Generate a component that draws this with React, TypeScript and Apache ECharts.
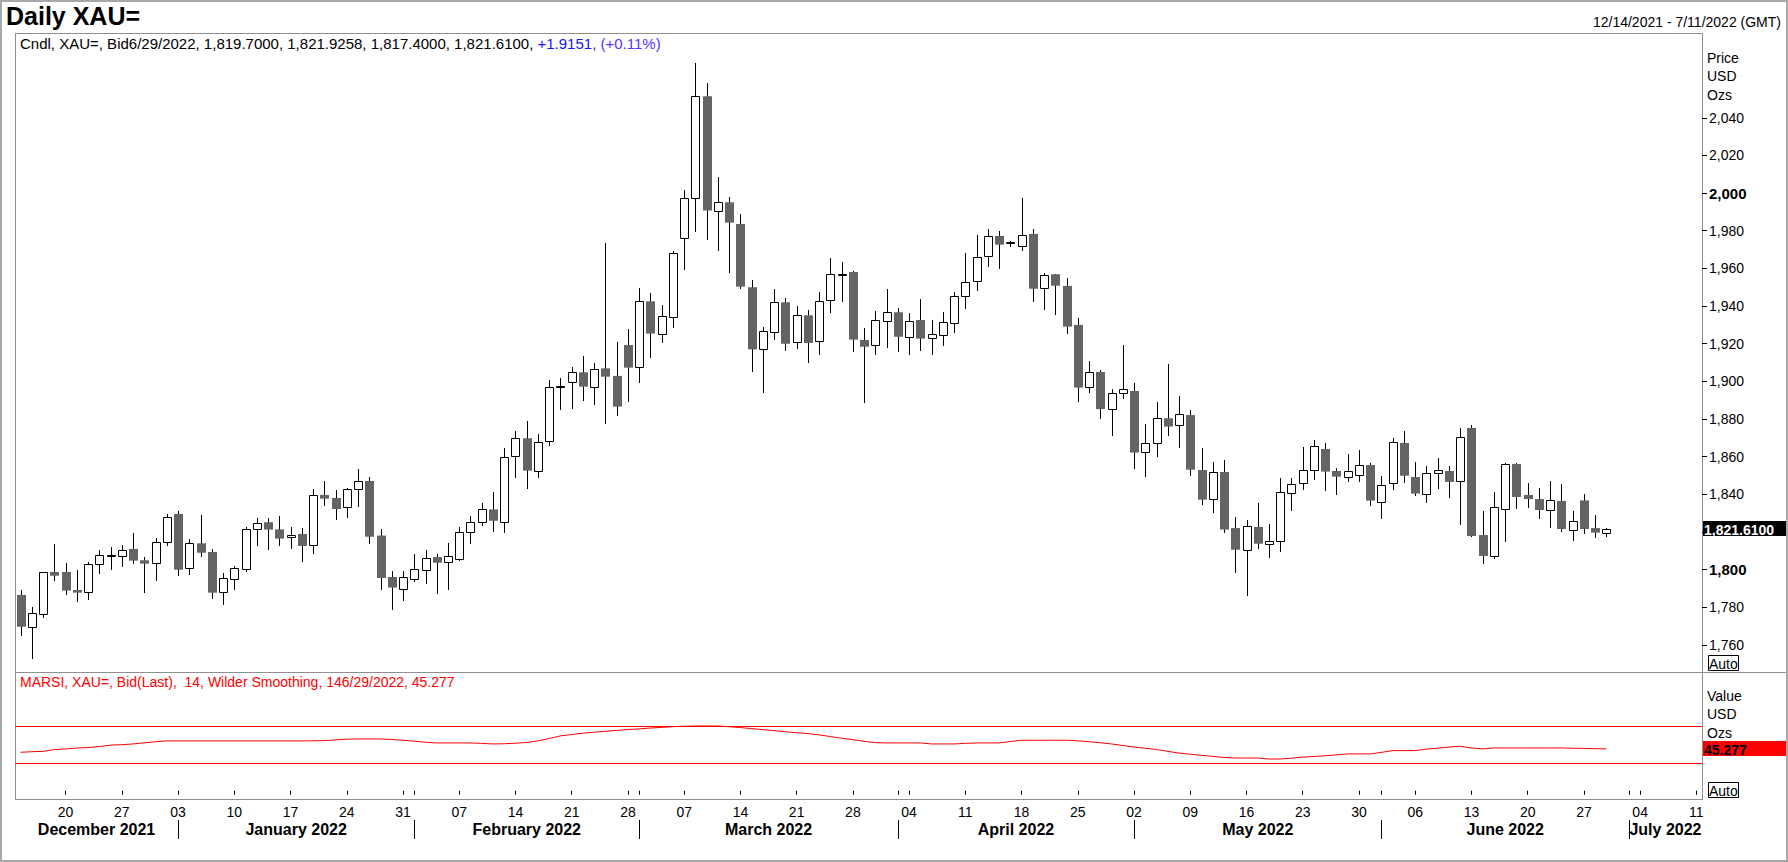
import React, { useEffect, useRef } from "react";
import * as echarts from "echarts";

// ---------- data ----------
const FIRST_DAY = "2021-12-14";
const LAST_DAY = "2022-07-11";

const opens: number[] = [
  1786.6, 1769.7, 1776.6, 1798.8, 1798.8, 1789.2, 1788.0, 1802.8, 1807.2, 1807.1,
  1811.0, 1805.0, 1803.4, 1814.5, 1829.6, 1800.7, 1814.0, 1809.4, 1788.3, 1794.9,
  1800.5, 1821.4, 1825.2, 1821.4, 1817.2, 1819.0, 1812.9, 1839.7, 1838.1, 1833.1,
  1842.7, 1847.1, 1818.1, 1796.1, 1789.9, 1795.2, 1800.0, 1806.7, 1803.9, 1805.9,
  1819.8, 1825.2, 1832.0, 1825.5, 1860.2, 1869.8, 1852.2, 1868.2, 1897.0, 1899.5,
  1904.8, 1897.2, 1906.9, 1902.9, 1919.3, 1907.5, 1942.5, 1925.4, 1934.4, 1976.0,
  1997.2, 2051.4, 1990.7, 1995.1, 1983.6, 1950.0, 1917.0, 1926.4, 1942.0, 1920.8,
  1935.1, 1921.3, 1943.1, 1956.4, 1958.1, 1922.0, 1919.2, 1931.9, 1936.7, 1923.4,
  1932.6, 1922.9, 1924.5, 1930.8, 1945.2, 1953.1, 1966.4, 1977.2, 1973.5, 1971.7,
  1978.3, 1949.4, 1956.9, 1950.7, 1930.0, 1896.8, 1905.0, 1885.2, 1893.7, 1894.9,
  1862.3, 1867.1, 1880.4, 1876.7, 1882.1, 1852.9, 1837.4, 1851.9, 1822.1, 1810.3,
  1822.7, 1813.5, 1815.4, 1840.5, 1845.9, 1852.8, 1864.1, 1852.4, 1849.1, 1850.1,
  1855.6, 1835.8, 1845.9, 1867.3, 1849.2, 1840.0, 1851.2, 1852.4, 1847.3, 1875.2,
  1818.4, 1807.5, 1832.4, 1856.1, 1839.7, 1837.5, 1831.9, 1836.5, 1821.3, 1836.8,
  1822.1, 1819.7,
];
const highs: number[] = [
  1789.2, 1780.4, 1799.0, 1813.6, 1803.5, 1799.8, 1804.1, 1810.5, 1812.0, 1813.1,
  1819.5, 1806.9, 1816.6, 1829.4, 1831.2, 1816.1, 1829.0, 1810.8, 1798.1, 1802.0,
  1822.5, 1827.3, 1827.3, 1828.3, 1822.7, 1822.3, 1842.9, 1847.3, 1842.3, 1843.6,
  1853.5, 1849.4, 1821.6, 1799.3, 1799.3, 1808.3, 1810.4, 1808.3, 1814.4, 1822.5,
  1828.7, 1835.2, 1841.3, 1864.4, 1873.7, 1879.0, 1872.1, 1900.7, 1901.7, 1907.5,
  1913.5, 1909.7, 1973.7, 1920.8, 1927.7, 1949.6, 1946.8, 1940.6, 1969.3, 2001.7,
  2068.9, 2058.3, 2008.6, 1997.9, 1988.9, 1953.9, 1929.1, 1949.1, 1944.3, 1940.0,
  1937.9, 1947.3, 1965.4, 1963.4, 1958.6, 1928.2, 1937.4, 1949.1, 1939.0, 1936.1,
  1943.8, 1932.6, 1936.9, 1947.3, 1968.2, 1977.7, 1980.9, 1979.9, 1974.7, 1997.4,
  1980.8, 1957.4, 1957.2, 1954.9, 1933.7, 1910.8, 1906.0, 1895.8, 1919.3, 1899.0,
  1877.4, 1889.1, 1909.2, 1892.2, 1884.8, 1864.6, 1857.2, 1858.2, 1828.0, 1826.4,
  1835.4, 1824.3, 1848.7, 1848.7, 1865.1, 1868.9, 1867.1, 1854.2, 1861.4, 1863.6,
  1856.8, 1849.8, 1869.8, 1873.6, 1857.2, 1855.1, 1859.3, 1855.1, 1875.2, 1876.7,
  1831.2, 1841.3, 1856.8, 1856.5, 1846.2, 1843.2, 1847.1, 1845.5, 1831.2, 1840.2,
  1828.9, 1821.9258,
];
const lows: number[] = [
  1764.8, 1752.6, 1774.5, 1794.2, 1786.6, 1782.8, 1784.1, 1797.9, 1800.0, 1801.6,
  1803.2, 1787.8, 1794.2, 1812.8, 1796.8, 1797.2, 1806.9, 1784.6, 1781.4, 1789.4,
  1798.9, 1812.8, 1810.6, 1812.8, 1811.1, 1804.1, 1808.3, 1833.8, 1826.4, 1827.6,
  1833.5, 1813.6, 1789.2, 1778.6, 1783.6, 1793.6, 1792.4, 1787.1, 1789.2, 1804.8,
  1813.6, 1823.2, 1820.0, 1819.7, 1848.9, 1843.0, 1848.9, 1865.9, 1884.8, 1885.3,
  1889.8, 1887.5, 1877.4, 1881.6, 1889.2, 1899.3, 1912.6, 1920.6, 1928.5, 1959.2,
  1979.3, 1975.1, 1969.4, 1957.8, 1948.9, 1905.2, 1894.0, 1922.0, 1916.3, 1917.0,
  1909.6, 1913.8, 1936.2, 1942.2, 1915.8, 1888.7, 1914.2, 1917.9, 1915.8, 1914.2,
  1916.3, 1914.2, 1919.0, 1925.9, 1938.6, 1948.2, 1960.9, 1959.9, 1971.5, 1969.4,
  1942.3, 1938.1, 1935.4, 1925.3, 1889.2, 1894.0, 1880.0, 1871.0, 1890.8, 1853.7,
  1849.4, 1860.0, 1871.0, 1864.8, 1849.9, 1834.5, 1830.3, 1819.7, 1798.4, 1786.2,
  1811.2, 1806.4, 1809.6, 1831.4, 1842.5, 1847.8, 1842.0, 1839.8, 1846.8, 1846.8,
  1834.0, 1827.1, 1842.3, 1845.9, 1839.1, 1835.6, 1842.9, 1838.1, 1823.9, 1817.5,
  1803.0, 1805.9, 1814.7, 1832.2, 1832.8, 1826.9, 1822.1, 1820.0, 1815.4, 1818.9,
  1817.0, 1817.4,
];
const closes: number[] = [
  1769.7, 1776.8, 1798.6, 1796.8, 1788.9, 1787.8, 1802.8, 1807.6, 1807.6, 1810.3,
  1804.8, 1803.2, 1814.5, 1827.8, 1800.0, 1814.0, 1809.0, 1787.8, 1795.4, 1800.7,
  1821.4, 1824.6, 1821.3, 1816.5, 1818.3, 1812.6, 1839.5, 1837.7, 1832.2, 1842.9,
  1847.1, 1817.5, 1795.6, 1790.5, 1795.9, 1800.2, 1806.0, 1803.7, 1807.1, 1819.8,
  1825.2, 1832.0, 1826.0, 1859.7, 1869.8, 1852.6, 1867.6, 1896.8, 1897.4, 1904.8,
  1897.2, 1906.8, 1902.5, 1886.6, 1907.3, 1942.5, 1925.4, 1934.6, 1968.0, 1997.2,
  2051.4, 1990.7, 1995.1, 1984.3, 1950.3, 1917.0, 1927.0, 1942.0, 1920.0, 1935.1,
  1920.4, 1942.5, 1956.9, 1956.8, 1922.2, 1918.4, 1932.4, 1936.7, 1923.7, 1931.9,
  1922.7, 1925.0, 1931.4, 1945.2, 1952.6, 1965.9, 1977.0, 1972.6, 1973.9, 1977.6,
  1949.2, 1956.7, 1950.8, 1929.1, 1896.7, 1904.8, 1885.3, 1893.8, 1895.8, 1862.2,
  1867.1, 1880.4, 1876.0, 1882.5, 1853.1, 1837.2, 1851.7, 1821.3, 1810.6, 1823.0,
  1813.8, 1815.1, 1841.1, 1845.3, 1852.8, 1865.5, 1852.1, 1849.4, 1852.2, 1855.4,
  1836.7, 1844.8, 1867.6, 1849.9, 1840.4, 1851.2, 1852.8, 1846.6, 1870.3, 1817.9,
  1807.3, 1833.1, 1855.9, 1838.6, 1837.5, 1831.7, 1836.8, 1821.6, 1825.9, 1821.6,
  1819.69, 1821.61,
];
const rsi: number[] = [
  41.6, 42.2, 42.6, 44.5, 45.2, 46.2, 46.7, 47.8, 49.3, 49.8,
  50.6, 51.8, 53.0, 53.9, 53.9, 53.9, 53.9, 53.9, 53.9, 53.9,
  53.9, 53.9, 53.9, 53.9, 53.9, 53.9, 54.0, 54.2, 55.0, 55.8,
  56.0, 56.0, 56.0, 55.4, 54.6, 53.6, 52.4, 51.7, 51.7, 51.7,
  51.7, 51.2, 50.6, 50.8, 51.4, 52.2, 53.9, 56.5, 59.3, 60.8,
  62.2, 63.3, 64.3, 65.2, 66.2, 66.9, 67.8, 68.5, 69.3, 69.7,
  70.0, 70.0, 70.0, 69.2, 68.3, 67.2, 66.1, 65.0, 63.8, 62.7,
  61.8, 60.4, 58.6, 56.8, 55.2, 53.4, 52.0, 51.7, 51.7, 51.7,
  51.7, 50.6, 50.6, 50.6, 51.2, 51.7, 51.7, 51.7, 53.2, 54.6,
  54.6, 54.6, 54.6, 54.6, 54.0, 53.0, 51.9, 50.6, 48.9, 47.3,
  45.9, 44.6, 42.6, 40.7, 39.5, 38.3, 37.2, 36.0, 35.4, 35.4,
  35.4, 34.3, 34.3, 35.2, 36.4, 37.0, 37.8, 38.8, 39.8, 39.8,
  39.8, 41.5, 43.4, 43.4, 43.4, 45.0, 46.0, 47.2, 48.1, 46.3,
  45.2, 46.3, 46.3, 46.3, 46.3, 46.3, 46.3, 46.3, 46.0, 45.8,
  45.5, 45.277,
];

const PRICE_MIN = 1760;
const PRICE_MAX = 2040;
const PRICE_STEP = 20;
const BOLD_TICKS = [1800, 2000];
const RSI_BANDS = [70, 30];

const TITLE = "Daily XAU=";
const RANGE_TEXT = "12/14/2021 - 7/11/2022 (GMT)";
const LEGEND_MAIN = "Cndl, XAU=, Bid6/29/2022, 1,819.7000, 1,821.9258, 1,817.4000, 1,821.6100, ";
const LEGEND_CHANGE = "+1.9151, ";
const LEGEND_PCT = "(+0.11%)";
const RSI_LEGEND = "MARSI, XAU=, Bid(Last),  14, Wilder Smoothing, 146/29/2022, 45.277";
const PRICE_UNITS = ["Price", "USD", "Ozs"];
const RSI_UNITS = ["Value", "USD", "Ozs"];
const MONTHS = ["January", "February", "March", "April", "May", "June", "July", "August", "September", "October", "November", "December"];

function buildWeekdays(a: string, b: string): string[] {
  const out: string[] = [];
  const d = new Date(a + "T00:00:00Z");
  const end = new Date(b + "T00:00:00Z");
  while (d <= end) {
    const wd = d.getUTCDay();
    if (wd !== 0 && wd !== 6) out.push(d.toISOString().slice(0, 10));
    d.setUTCDate(d.getUTCDate() + 1);
  }
  return out;
}
const dates = buildWeekdays(FIRST_DAY, LAST_DAY);

const isMonday = (s: string) => new Date(s + "T00:00:00Z").getUTCDay() === 1;
const isMonthStart = (i: number) => i > 0 && dates[i].slice(5, 7) !== dates[i - 1].slice(5, 7);

const FONT = "'Liberation Sans', Arial, Helvetica, sans-serif";
const FRAME = "#8f8f8f";

// layout
const W = 1788;
const H = 862;
const PLOT_L = 15;
const PLOT_R = 1702;
const PANEL_TOP = 33;
const PANEL_SPLIT = 672;
const PANEL_BOTTOM = 799;
const TAG_W = 83;
const TAG_H = 15;

export default function App() {
  const ref = useRef<HTMLDivElement>(null);

  useEffect(() => {
    document.body.style.margin = "0";
    const chart = echarts.init(ref.current!, null, { renderer: "svg" });
    const n = closes.length;
    const candleData = closes.map((c, i) => [i, opens[i], c, lows[i], highs[i]]);
    const last = n - 1;
    const lastClose = closes[last];
    const lastCloseText = lastClose.toLocaleString("en-US", { minimumFractionDigits: 4, maximumFractionDigits: 4 });
    const lastRsiText = rsi[last].toFixed(3);

    const textEl = (id: string, text: string, x: number, y: number, extra: any = {}) => ({
      type: "text",
      id,
      x,
      y,
      silent: true,
      z: 50,
      style: {
        text,
        fontFamily: FONT,
        fontSize: 14,
        fill: "#000",
        textVerticalAlign: "middle",
        ...extra,
      },
    });
    const lineEl = (id: string, x1: number, y1: number, x2: number, y2: number, stroke = FRAME, lw = 1) => ({
      type: "line",
      id,
      silent: true,
      shape: { x1, y1, x2, y2 },
      style: { stroke, lineWidth: lw },
    });

    const graphics: any[] = [
      { type: "rect", id: "frame", silent: true, shape: { x: 1, y: 1, width: W - 2, height: H - 2 }, style: { fill: "none", stroke: "#a8a8a8", lineWidth: 2 } },
      lineEl("pTop", PLOT_L, PANEL_TOP + 0.5, PLOT_R, PANEL_TOP + 0.5),
      lineEl("pLeft", PLOT_L + 0.5, PANEL_TOP, PLOT_L + 0.5, PANEL_BOTTOM),
      lineEl("pRight", PLOT_R + 0.5, PANEL_TOP, PLOT_R + 0.5, PANEL_BOTTOM + 1),
      lineEl("pSplit", PLOT_L, PANEL_SPLIT + 0.5, 1786, PANEL_SPLIT + 0.5),
      lineEl("pBottom", PLOT_L, PANEL_BOTTOM + 0.5, PLOT_R, PANEL_BOTTOM + 0.5),
      textEl("title", TITLE, 6, 16, { fontSize: 25, fontWeight: "bold" }),
      textEl("range", RANGE_TEXT, 1781, 22, { textAlign: "right" }),
      {
        type: "text",
        id: "legend",
        x: 20,
        y: 43,
        silent: true,
        z: 50,
        style: {
          text: `{a|${LEGEND_MAIN}}{b|${LEGEND_CHANGE}}{c|${LEGEND_PCT}}`,
          textVerticalAlign: "middle",
          rich: {
            a: { fontFamily: FONT, fontSize: 15, fill: "#000", color: "#000" },
            b: { fontFamily: FONT, fontSize: 15, fill: "#1414ff", color: "#1414ff" },
            c: { fontFamily: FONT, fontSize: 15, fill: "#5a32ff", color: "#5a32ff" },
          },
        },
      },
      textEl("rsiLegend", RSI_LEGEND, 20, 682, { fill: "#ff0000", fontSize: 14 }),
      ...PRICE_UNITS.map((t, k) => textEl("pu" + k, t, 1707, 58 + k * 18.4)),
      ...RSI_UNITS.map((t, k) => textEl("ru" + k, t, 1707, 696 + k * 18.4)),
      { type: "rect", id: "autoBox1", silent: true, shape: { x: 1708.5, y: 655.5, width: 30, height: 15 }, style: { fill: "#fff", stroke: "#000", lineWidth: 1 } },
      textEl("auto1", "Auto", 1709, 663.5),
      { type: "rect", id: "autoBox2", silent: true, shape: { x: 1708.5, y: 782.5, width: 30, height: 15 }, style: { fill: "#fff", stroke: "#000", lineWidth: 1 } },
      textEl("auto2", "Auto", 1709, 790.5),
    ];

    const option: any = {
      animation: false,
      backgroundColor: "#ffffff",
      textStyle: { fontFamily: FONT },
      grid: [
        { left: PLOT_L, right: W - PLOT_R, top: 117.76, bottom: H - 645.0 },
        { left: PLOT_L, right: W - PLOT_R, top: PANEL_SPLIT, bottom: H - PANEL_BOTTOM },
      ],
      xAxis: [
        { type: "category", gridIndex: 0, data: dates, show: false },
        {
          type: "category",
          gridIndex: 1,
          data: dates,
          position: "bottom",
          axisLine: { show: false },
          axisTick: {
            show: true,
            alignWithLabel: true,
            length: 4,
            interval: (i: number, v: string) => isMonday(v) || isMonthStart(i),
            lineStyle: { color: "#000", width: 1 },
          },
          axisLabel: {
            show: true,
            interval: (_i: number, v: string) => isMonday(v),
            formatter: (v: string) => v.slice(8, 10),
            fontSize: 14,
            color: "#000",
            margin: 6,
            fontFamily: FONT,
          },
          splitLine: { show: false },
        },
        {
          type: "category",
          gridIndex: 1,
          data: dates,
          position: "bottom",
          offset: 21,
          axisLine: { show: false },
          axisTick: {
            show: true,
            alignWithLabel: true,
            length: 19,
            interval: (i: number) => isMonthStart(i),
            lineStyle: { color: "#000", width: 1 },
          },
          axisLabel: { show: false },
          splitLine: { show: false },
        },
      ],
      yAxis: [
        {
          type: "value",
          gridIndex: 0,
          position: "right",
          min: PRICE_MIN,
          max: PRICE_MAX,
          interval: PRICE_STEP,
          axisLine: { show: false },
          axisTick: { show: true, length: 5, lineStyle: { color: "#000" } },
          splitLine: { show: false },
          axisLabel: {
            margin: 7,
            formatter: (v: number) => {
              // the last-price tag covers the tick label next to it
              if (Math.abs(v - lastClose) < PRICE_STEP / 3) return "";
              const s = v.toLocaleString("en-US");
              return BOLD_TICKS.includes(v) ? `{b|${s}}` : `{n|${s}}`;
            },
            rich: {
              b: { fontWeight: "bold", fontSize: 15, color: "#000", fontFamily: FONT },
              n: { fontSize: 14, color: "#000", fontFamily: FONT },
            },
          },
        },
        {
          type: "value",
          gridIndex: 1,
          min: -8.92,
          max: 128.38,
          show: false,
          splitLine: { show: false },
        },
      ],
      series: [
        {
          type: "custom",
          name: "Cndl",
          xAxisIndex: 0,
          yAxisIndex: 0,
          clip: false,
          silent: true,
          data: candleData,
          encode: { x: 0, y: [1, 2, 3, 4] },
          renderItem: (_params: any, api: any) => {
            const i = api.value(0);
            const o = api.value(1);
            const c = api.value(2);
            const l = api.value(3);
            const h = api.value(4);
            const pO = api.coord([i, o]);
            const pC = api.coord([i, c]);
            const pL = api.coord([i, l]);
            const pH = api.coord([i, h]);
            const cx = Math.round(pO[0]) + 0.5;
            const top = Math.min(pO[1], pC[1]);
            const bot = Math.max(pO[1], pC[1]);
            const up = c >= o;
            const children: any[] = [
              { type: "line", shape: { x1: cx, y1: Math.round(pH[1]), x2: cx, y2: Math.round(pL[1]) }, style: { stroke: "#000", lineWidth: 1 } },
            ];
            if (up) {
              const t = Math.round(top) + 0.5;
              const hh = Math.max(Math.round(bot) - Math.round(top), 1);
              children.push({ type: "rect", shape: { x: cx - 4, y: t, width: 8, height: hh }, style: { fill: "#ffffff", stroke: "#000", lineWidth: 1 } });
            } else {
              children.push({ type: "rect", shape: { x: cx - 4.5, y: top, width: 9, height: Math.max(bot - top, 1) }, style: { fill: "#646464", stroke: null } });
            }
            return { type: "group", children };
          },
        },
        {
          type: "line",
          name: "MARSI",
          xAxisIndex: 1,
          yAxisIndex: 1,
          data: rsi,
          showSymbol: false,
          silent: true,
          lineStyle: { color: "#ff0000", width: 1 },
          markLine: {
            silent: true,
            symbol: ["none", "none"],
            lineStyle: { color: "#ff0000", type: "solid", width: 1 },
            label: { show: false },
            data: RSI_BANDS.map((v) => ({ yAxis: v })),
          },
        },
      ],
      graphic: graphics,
    };

    chart.setOption(option);

    // month labels centred between month separators, positioned through the axis scale
    const px = (i: number) => chart.convertToPixel({ xAxisIndex: 1 }, i) as number;
    const band = px(1) - px(0);
    const leftEdge = px(0) - band / 2;
    const rightEdge = px(dates.length - 1) + band / 2;
    const starts: number[] = [];
    dates.forEach((_d, i) => { if (isMonthStart(i)) starts.push(i); });
    const segs: { label: string; a: number; b: number }[] = [];
    const monthLabel = (s: string) => MONTHS[parseInt(s.slice(5, 7), 10) - 1] + " " + s.slice(0, 4);
    segs.push({ label: monthLabel(dates[0]), a: leftEdge, b: px(starts[0]) });
    starts.forEach((s, k) => {
      segs.push({ label: monthLabel(dates[s]), a: px(s), b: k + 1 < starts.length ? px(starts[k + 1]) : rightEdge });
    });
    const monthGraphics = segs.map((sg, k) => ({
      type: "text",
      id: "month" + k,
      x: (sg.a + sg.b) / 2,
      y: 829,
      silent: true,
      style: {
        text: sg.label,
        fontFamily: FONT,
        fontSize: 16,
        fontWeight: "bold",
        fill: "#000",
        textAlign: "center",
        textVerticalAlign: "middle",
      },
    }));

    // last-value tags on the right axes, placed through the value scales
    const yClose = chart.convertToPixel({ yAxisIndex: 0 }, lastClose) as number;
    const yRsi = chart.convertToPixel({ yAxisIndex: 1 }, rsi[last]) as number;
    const tagGraphics: any[] = [
      { type: "rect", id: "tagPriceBox", z: 100, silent: true, shape: { x: PLOT_R + 1, y: Math.round(yClose - TAG_H / 2), width: TAG_W, height: TAG_H }, style: { fill: "#000" } },
      { type: "text", id: "tagPriceText", z: 101, silent: true, x: PLOT_R + 2, y: Math.round(yClose) + 0.5, style: { text: lastCloseText, fontFamily: FONT, fontSize: 14, fontWeight: "bold", fill: "#fff", textVerticalAlign: "middle" } },
      { type: "rect", id: "tagRsiBox", z: 100, silent: true, shape: { x: PLOT_R + 1, y: Math.round(yRsi - TAG_H / 2), width: TAG_W, height: TAG_H }, style: { fill: "#ff0000" } },
      { type: "text", id: "tagRsiText", z: 101, silent: true, x: PLOT_R + 2, y: Math.round(yRsi) + 0.5, style: { text: lastRsiText, fontFamily: FONT, fontSize: 14, fontWeight: "bold", fill: "#000", textVerticalAlign: "middle" } },
    ];

    chart.setOption({ graphic: [...graphics, ...monthGraphics, ...tagGraphics] });

    return () => chart.dispose();
  }, []);

  return <div ref={ref} style={{ width: W, height: H }} />;
}
